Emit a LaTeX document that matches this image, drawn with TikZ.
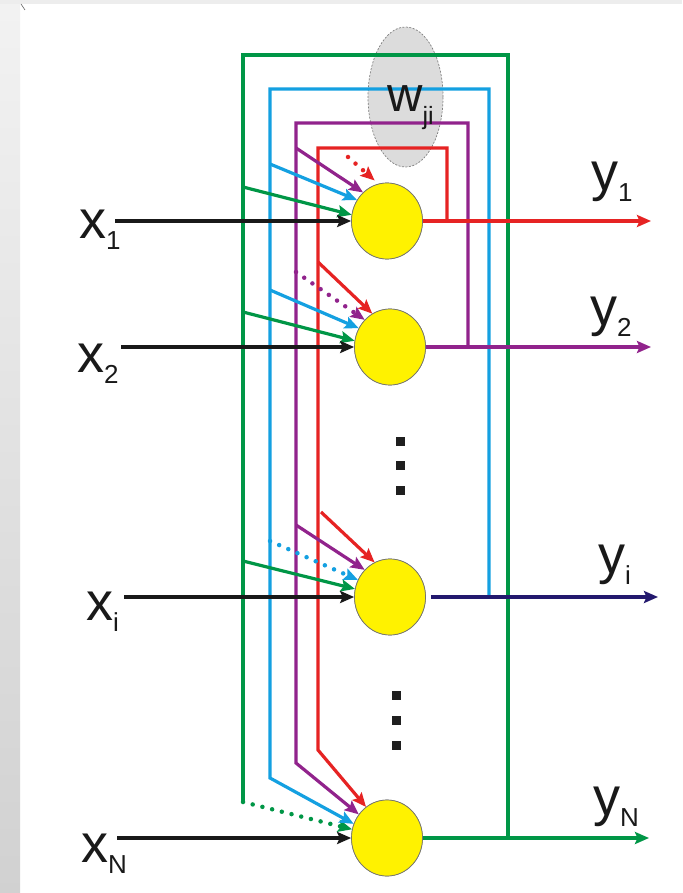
\documentclass[tikz,border=0pt]{standalone}
\usepackage{fontspec}
\setmainfont{Liberation Sans}
\usetikzlibrary{arrows.meta,shapes.geometric}
\definecolor{cgreen}{RGB}{0,150,70}
\definecolor{cblue}{RGB}{20,160,225}
\definecolor{cpurple}{RGB}{145,35,140}
\definecolor{cred}{RGB}{230,35,35}
\definecolor{cnavy}{RGB}{35,25,110}
\definecolor{cyel}{RGB}{255,242,0}
\definecolor{cell}{RGB}{220,220,220}
\definecolor{ctext}{RGB}{25,25,25}
\newcommand{\lab}[2]{#1\raisebox{-11pt}{\fontsize{26}{26}\selectfont #2}}
\begin{document}
\begin{tikzpicture}[x=1pt,y=-1pt,
  wire/.style={line width=3.2pt},
  tipst/.style={-{Stealth[length=14pt,width=12pt,inset=2.5pt]}},
  arr/.style={wire,tipst},
  dotline/.style={line width=4.5pt,line cap=round,dash pattern=on 0pt off 10pt},
  darr/.style={dotline,tipst},
  neuron/.style={ellipse,minimum width=71pt,minimum height=76pt,inner sep=0pt,fill=cyel,draw=black!55,line width=0.7pt},
  lbl/.style={inner sep=0pt,anchor=base west,text=ctext,font=\fontsize{54}{54}\selectfont},
  dotsq/.style={rectangle,fill=black!88,minimum width=9pt,minimum height=9pt,inner sep=0pt}
]
\useasboundingbox (0,0) rectangle (682,893);
\fill[white] (0,0) rectangle (682,893);
\shade[top color=black!5, bottom color=black!18] (0,0) rectangle (20,893);
\fill[black!7] (0,0) rectangle (682,4);
\draw[black!60,line width=0.6pt] (21,4) -- (25,10);

% weight ellipse
\node[ellipse,minimum width=75pt,minimum height=140pt,inner sep=0pt,fill=cell,draw=black!50,line width=0.7pt,dash pattern=on 2pt off 1.5pt] (wel) at (405.5,97) {};

% neurons
\node[neuron] (n1) at (387,221) {};
\node[neuron] (n2) at (390,347) {};
\node[neuron] (ni) at (390,597) {};
\node[neuron] (nN) at (387,838) {};

% loop coordinates
\coordinate (gJ) at (508,838); \coordinate (gTL) at (243,55); \coordinate (gE) at (243,802);
\coordinate (bJ) at (489,597); \coordinate (bTL) at (270,89); \coordinate (bE) at (270,778);
\coordinate (pJ) at (468,347); \coordinate (pTL) at (296,123); \coordinate (pE) at (296,763);
\coordinate (rJ) at (447,221); \coordinate (rTL) at (318,148); \coordinate (rE) at (318,750);

% feedback loops
\draw[wire,cgreen] (gJ) |- (gTL) -- (gE);
\draw[darr,cgreen] (gE) -- (nN.166);
\draw[arr,cblue] (bJ) |- (bTL) -- (bE) -- (nN.157);
\draw[arr,cpurple] (pJ) |- (pTL) -- (pE) -- (nN.140);
\draw[arr,cred] (rJ) |- (rTL) -- (rE) -- (nN.124);

% arrow starts
\coordinate (g1) at (243,187); \coordinate (b1) at (270,164); \coordinate (p1) at (296,148); \coordinate (r1) at (348,157);
\coordinate (g2) at (243,312); \coordinate (b2) at (270,290); \coordinate (p2) at (296,272); \coordinate (r2) at (318,262);
\coordinate (g3) at (243,561); \coordinate (b3) at (270,541); \coordinate (p3) at (296,525); \coordinate (r3) at (321,512);

\draw[arr,cgreen] (g1) -- (n1.170);
\draw[arr,cblue] (b1) -- (n1.145);
\draw[arr,cpurple] (p1) -- (n1.130);
\draw[darr,cred,shorten >=5pt] (r1) -- (n1.103);

\draw[arr,cgreen] (g2) -- (n2.170);
\draw[arr,cblue] (b2) -- (n2.149);
\draw[darr,cpurple] (p2) -- (n2.133);
\draw[arr,cred] (r2) -- (n2.118);

\draw[arr,cgreen] (g3) -- (ni.167);
\draw[darr,cblue] (b3) -- (ni.152);
\draw[arr,cpurple] (p3) -- (ni.133);
\draw[arr,cred] (r3) -- (ni.114);

% inputs
\coordinate (xs1) at (115,221); \coordinate (xs2) at (121,347);
\coordinate (xs3) at (124,597); \coordinate (xs4) at (117,838);
\draw[arr,black!90] (xs1) -- (n1);
\draw[arr,black!90] (xs2) -- (n2);
\draw[arr,black!90] (xs3) -- (ni);
\draw[arr,black!90] (xs4) -- (nN);

% outputs
\coordinate (ye1) at (651,221); \coordinate (ye2) at (651,347);
\coordinate (ye3) at (658,597); \coordinate (ye4) at (649,838);
\draw[arr,cred] (n1) -- (ye1);
\draw[arr,cpurple] (n2) -- (ye2);
\draw[arr,cnavy,shorten <=5pt] (ni) -- (ye3);
\draw[arr,cgreen] (nN) -- (ye4);

% neurons redrawn on top
\node[neuron] at (n1) {};
\node[neuron] at (n2) {};
\node[neuron] at (ni) {};
\node[neuron] at (nN) {};

% labels
\node[lbl,font=\fontsize{49}{49}\selectfont] (wlab) at (387,112) {w\raisebox{-13pt}{\fontsize{25}{25}\selectfont ji}};
\node[lbl] (lx1) at (79,238) {\lab{x}{1}};
\node[lbl] (lx2) at (77,372) {\lab{x}{2}};
\node[lbl] (lxi) at (86,620) {\lab{x}{i}};
\node[lbl] (lxN) at (81,862) {\lab{x}{N}};
\node[lbl] (ly1) at (591,191) {\lab{y}{1}};
\node[lbl] (ly2) at (590,325) {\lab{y}{2}};
\node[lbl] (lyi) at (598,573) {\lab{y}{i}};
\node[lbl] (lyN) at (593,815) {\lab{y}{N}};

% ellipsis dots
\node[dotsq] (d1) at (400,441) {};
\node[dotsq] (d2) at (400,465) {};
\node[dotsq] (d3) at (400,490) {};
\node[dotsq] (d4) at (396,695) {};
\node[dotsq] (d5) at (396,720) {};
\node[dotsq] (d6) at (396,745) {};
\end{tikzpicture}
\end{document}
